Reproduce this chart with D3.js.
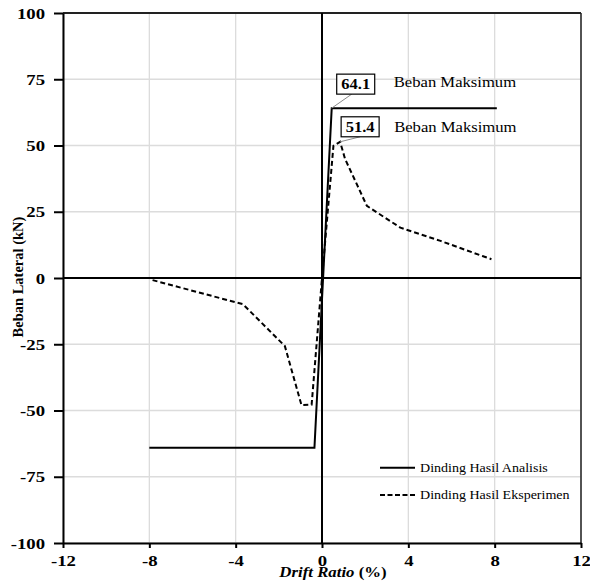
<!DOCTYPE html>
<html>
<head>
<meta charset="utf-8">
<script src="https://cdn.jsdelivr.net/npm/d3@7"></script>
<style>
  body { margin: 0; background: #fff; }
  svg { display: block; }
</style>
</head>
<body>
<script>
// ---- data ----
var xTicks = [-12, -8, -4, 0, 4, 8, 12];
var yTicks = [-100, -75, -50, -25, 0, 25, 50, 75, 100];

// Dinding Hasil Analisis (solid)
var analisisX = [-8, -0.35, 0.45, 8.1];
var analisisY = [-64.1, -64.1, 64.1, 64.1];

// Dinding Hasil Eksperimen (dashed)
var eksperimenX = [-7.85, -3.66, -1.72, -0.95, -0.48, 0, 0.53, 0.84, 1.07, 2.08, 3.63, 5.49, 7.43, 7.85];
var eksperimenY = [-0.8, -9.9, -25.7, -48, -47.8, 0, 49.9, 51.4, 44.9, 27.2, 19, 14, 8.3, 7.1];

var peakLabels = [
  { value: "64.1", x: 0.45, y: 64.1 },
  { value: "51.4", x: 0.84, y: 51.4 }
];
var legendLabels = ["Dinding Hasil Analisis", "Dinding Hasil Eksperimen"];

// ---- layout ----
var W = 590, H = 582;
var margin = { top: 13, right: 9, bottom: 39, left: 63 };
var width = W - margin.left - margin.right;
var height = H - margin.top - margin.bottom;
var FONT = "'Liberation Serif', 'Times New Roman', serif";

var x = d3.scaleLinear().domain([-12, 12]).range([0, width]);
var y = d3.scaleLinear().domain([-100, 100]).range([height, 0]);

var svg = d3.select("body").append("svg").attr("width", W).attr("height", H);
var g = svg.append("g").attr("transform", "translate(" + margin.left + "," + margin.top + ")");

// text with a little horizontal stretch, like the source figure
function label(parent, px, py, str, size, weight, sx, anchor) {
  return parent.append("text")
    .attr("transform", "translate(" + px + "," + py + ") scale(" + sx + ",1)")
    .attr("text-anchor", anchor || "start")
    .style("font-family", FONT)
    .style("font-size", size + "px")
    .style("font-weight", weight)
    .attr("fill", "#000")
    .text(str);
}

// grid
g.append("g").selectAll("line").data(xTicks).join("line")
  .attr("x1", d => x(d)).attr("x2", d => x(d))
  .attr("y1", 0).attr("y2", height)
  .attr("stroke", "#dcdcdc").attr("stroke-width", 1.3);
g.append("g").selectAll("line").data(yTicks).join("line")
  .attr("x1", 0).attr("x2", width)
  .attr("y1", d => y(d)).attr("y2", d => y(d))
  .attr("stroke", "#dcdcdc").attr("stroke-width", 1.3);

// frame top / right
g.append("line").attr("x1", 0).attr("x2", width).attr("y1", 0).attr("y2", 0)
  .attr("stroke", "#222").attr("stroke-width", 2);
g.append("line").attr("x1", width).attr("x2", width).attr("y1", 0).attr("y2", height)
  .attr("stroke", "#222").attr("stroke-width", 1.5);

// zero lines
g.append("line").attr("x1", x(0)).attr("x2", x(0)).attr("y1", 0).attr("y2", height)
  .attr("stroke", "#000").attr("stroke-width", 2);
g.append("line").attr("x1", 0).attr("x2", width).attr("y1", y(0)).attr("y2", y(0))
  .attr("stroke", "#000").attr("stroke-width", 2);

// axes
var yAxis = g.append("g")
  .call(d3.axisLeft(y).tickValues(yTicks).tickSize(9).tickSizeOuter(0).tickFormat(d => String(d)));
var xAxis = g.append("g").attr("transform", "translate(0," + height + ")")
  .call(d3.axisBottom(x).tickValues(xTicks).tickSize(5).tickSizeOuter(0).tickFormat(d => String(d)));

var tickSx = 1.25;
[yAxis, xAxis].forEach(function (a) {
  a.attr("font-family", null);
  a.select(".domain").attr("stroke", "#000").attr("stroke-width", 2);
  a.selectAll(".tick line").attr("stroke", "#000").attr("stroke-width", 2);
  a.selectAll(".tick text")
    .style("font-family", FONT)
    .style("font-size", "15px").style("font-weight", "bold").attr("fill", "#000");
});
yAxis.selectAll(".tick text").attr("x", -18 / tickSx).attr("dy", "0.34em")
  .attr("transform", "scale(" + tickSx + ",1)");
xAxis.selectAll(".tick text").attr("y", 23.5).attr("dy", 0)
  .attr("transform", "scale(" + tickSx + ",1)");

// lines
var line = d3.line().x(d => x(d[0])).y(d => y(d[1]));
g.append("path")
  .datum(analisisX.map((v, i) => [v, analisisY[i]]))
  .attr("d", line).attr("fill", "none")
  .attr("stroke", "#000").attr("stroke-width", 2);
g.append("path")
  .datum(eksperimenX.map((v, i) => [v, eksperimenY[i]]))
  .attr("d", line).attr("fill", "none")
  .attr("stroke", "#000").attr("stroke-width", 2).attr("stroke-dasharray", "5,3");

// peak annotations
var boxOffsets = [{ dx: 5, dy: -34 }, { dx: 1, dy: -25 }];
var textOffsets = [{ dx: 62, dy: -21.5 }, { dx: 54, dy: -10 }];
peakLabels.forEach(function (p, i) {
  var px = x(p.x), py = y(p.y);
  var bx = px + boxOffsets[i].dx, by = py + boxOffsets[i].dy;
  g.append("line").attr("x1", px).attr("y1", py)
    .attr("x2", bx + (i === 0 ? 15 : 19)).attr("y2", by + 20)
    .attr("stroke", "#8a8a8a").attr("stroke-width", 1);
  g.append("rect").attr("x", bx).attr("y", by).attr("width", 38).attr("height", 20)
    .attr("fill", "#fff").attr("stroke", "#000").attr("stroke-width", 1.2);
  label(g, bx + 19, by + 15, p.value, 15, "bold", 1.1, "middle");
  label(g, px + textOffsets[i].dx, py + textOffsets[i].dy, "Beban Maksimum", 15, "normal", 1.11);
});

// legend
var legendY = [454.7, 482];
legendLabels.forEach(function (t, i) {
  var ly = legendY[i];
  g.append("line").attr("x1", 317).attr("x2", 352).attr("y1", ly).attr("y2", ly)
    .attr("stroke", "#000").attr("stroke-width", 2)
    .attr("stroke-dasharray", i === 1 ? "5,2.5" : null);
  label(g, 357, ly + 4, t, 13, "normal", 1.08);
});

// axis titles
var xt = svg.append("text")
  .attr("transform", "translate(333,577) scale(1.2,1)")
  .attr("text-anchor", "middle")
  .style("font-family", FONT)
  .style("font-size", "14px").style("font-weight", "bold");
xt.append("tspan").style("font-style", "italic").text("Drift Ratio");
xt.append("tspan").text(" (%)");

svg.append("text")
  .attr("transform", "translate(23,277) rotate(-90)")
  .attr("text-anchor", "middle")
  .style("font-family", FONT)
  .style("font-size", "14.5px").style("font-weight", "bold")
  .text("Beban Lateral (kN)");
</script>
</body>
</html>
